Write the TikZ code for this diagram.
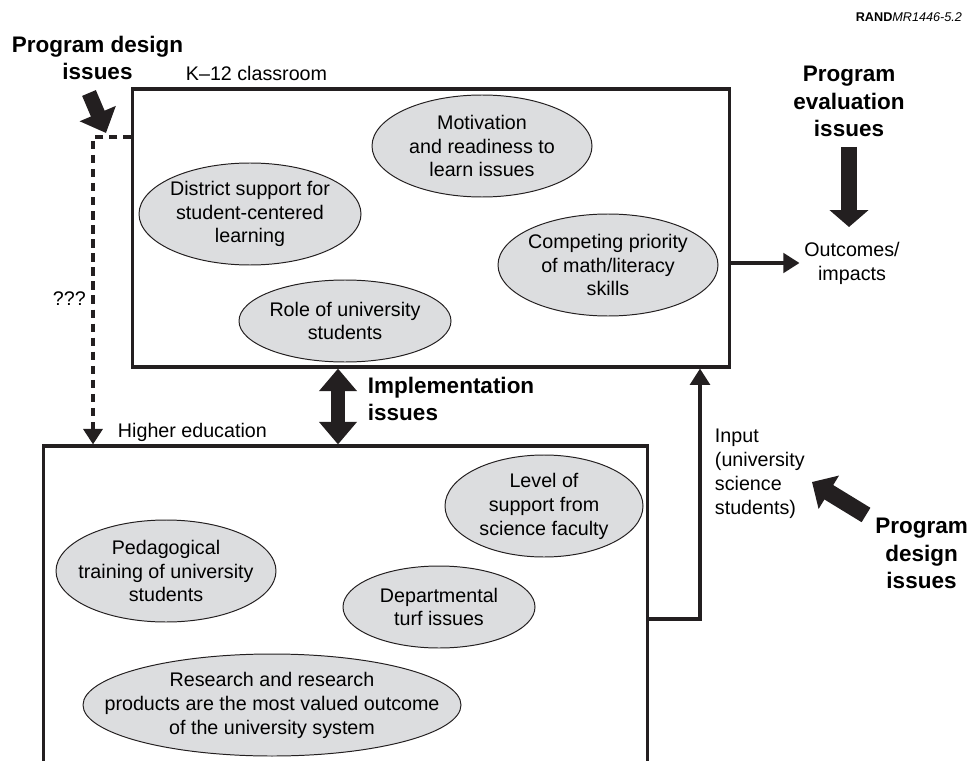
\documentclass[tikz,border=0pt]{standalone}
\usepackage{fontspec}
\setsansfont{Liberation Sans}
\usetikzlibrary{arrows.meta}
\definecolor{ink}{RGB}{35,31,32}
\definecolor{bubblegray}{RGB}{220,221,223}

\begin{document}
\begin{tikzpicture}[x=0.025cm,y=-0.025cm,
  font=\sffamily\fontsize{14}{17}\selectfont,
  panel/.style={draw=ink,line width=2.2pt,inner sep=0},
  bubble/.style={draw=ink,fill=bubblegray,line width=0.7pt},
  heading/.style={font=\sffamily\bfseries\fontsize{16}{19.5}\selectfont},
  flow/.style={draw=ink,line width=2.2pt,-{Triangle[width=14pt,length=11.5pt]}},
  maybe/.style={draw=ink,line width=2.5pt,dash pattern=on 6pt off 4pt,-{Triangle[width=13.5pt,length=11pt]}},
  fat/.style={draw=ink,line width=10.6pt,-{Triangle[width=26pt,length=14pt]}},
  every node/.style={align=center}]

\useasboundingbox (0,0) rectangle (971,761);
\clip (0,0) rectangle (971,761);

%the two settings
  \node[panel,minimum width=14.9cm,minimum height=6.95cm] (k12) at (431,228) {};
  \node[panel,minimum width=15.075cm,minimum height=8.85cm] (he) at (345.5,623) {};
  \node[anchor=base west] (k12lab) at (181,81) {K–12 classroom};
  \node[anchor=base west] (helab) at (113,437) {Higher education};

%issues inside the settings
  \foreach \px/\py/\rx/\ry/\nm/\txt in {
    482/146/110/51/motiv/{Motivation\\and readiness to\\learn issues},
    250/214/111/51/district/{District support for\\student-centered\\learning},
    608/265/110/51/compet/{Competing priority\\of math/literacy\\skills},
    345/321/106/41/role/{Role of university\\students},
    544/506/99/51/faculty/{Level of\\support from\\science faculty},
    166/571/110/51/pedag/{Pedagogical\\training of university\\students},
    439/607/96/41/turf/{Departmental\\turf issues},
    272/705/189/51/research/{Research and research\\products are the most valued outcome\\of the university system}}
  {\draw[bubble] (\px,\py) ellipse [x radius=\rx, y radius=\ry];
   \node (\nm) at (\px,\py) {\txt};}

%labels outside
  \node[anchor=base east,font=\sffamily\fontsize{9}{11}\selectfont] (rand) at (967,22) {\textbf{RAND}\textit{MR1446-5.2}};
  \node[heading] (pdtop) at (97.5,58) {Program design\\issues};
  \node[heading] (evalq) at (849,101.5) {Program\\evaluation\\issues};
  \node[heading,anchor=west,align=left] (impl) at (363,399) {Implementation\\issues};
  \node[heading] (pdright) at (921.5,553.5) {Program\\design\\issues};
  \node (outc) at (852,263) {Outcomes/\\impacts};
  \node[anchor=west,align=left] (input) at (710,474) {Input\\(university\\science\\students)};
  \node[anchor=base west] (qqq) at (48,305) {???};

%connectors
  \coordinate (corner) at (93,137);
  \draw[maybe] (k12.west |- corner) -- (corner) -- (corner |- he.north);
  \draw[flow] (k12.east |- outc) -- (outc.west);
  \coordinate (feed) at (700,619);
  \draw[flow] (he.east |- feed) -- (feed) -- (feed |- k12.south);

%big arrows
  \coordinate (imp) at (338,400);
  \draw[fat,{Triangle[width=26pt,length=16pt]}-{Triangle[width=26pt,length=16pt]}] (imp |- k12.south) -- (imp |- he.north);
  \coordinate (pdtail) at (89,93);
  \coordinate (pdtip) at (106,133);
  \draw[fat,-{Triangle[width=27pt,length=15pt]}] (pdtail) -- (pdtip);
  \coordinate (evtail) at (849,147);
  \coordinate (evtip) at (849,227);
  \draw[fat,line width=12pt,-{Triangle[width=27pt,length=12pt]}] (evtail) -- (evtip);
  \coordinate (intail) at (866,515);
  \coordinate (intip) at (812,482);
  \draw[fat,line width=12pt,-{Triangle[width=27pt,length=14pt]}] (intail) -- (intip);

\end{tikzpicture}
\end{document}
